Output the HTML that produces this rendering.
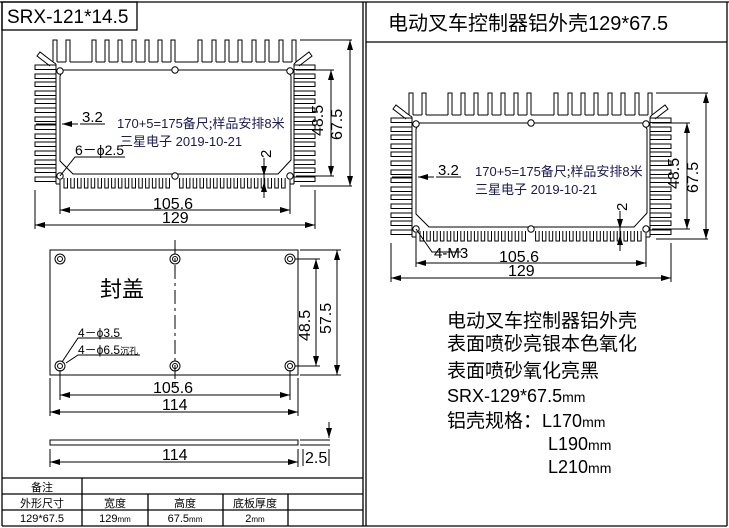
<!DOCTYPE html>
<html><head><meta charset="utf-8"><style>
html,body{margin:0;padding:0;background:#fff;}
svg{display:block;}
text{font-family:"Liberation Sans","Noto Sans CJK SC",sans-serif;fill:#000;}
.cj{font-family:"Noto Sans CJK SC","WenQuanYi Zen Hei",sans-serif;}
.bl{fill:#1a1a55;}
</style></head><body>
<svg width="729" height="528" viewBox="0 0 729 528" xmlns="http://www.w3.org/2000/svg">
<defs>
<marker id="a" viewBox="0 0 10 6" refX="10" refY="3" markerWidth="10" markerHeight="6" orient="auto-start-reverse" markerUnits="userSpaceOnUse"><path d="M0,0 L10,3 L0,6 Z" fill="#000"/></marker>
<g id="hs" fill="none" stroke="#000" stroke-width="1">
 <path d="M53,62V40h4V62 M66,62V40h4V62 M92,62V40h4V62 M105,62V40h4V62 M118,62V40h4V62 M132,62V40h4V62 M145,62V40h4V62 M158,62V40h4V62 M171,62V40h4V62 M198,62V40h4V62 M212,62V40h4V62 M225,62V40h4V62 M238,62V40h4V62 M252,62V40h4V62 M265,62V40h4V62 M279,62V40h4V62 M292,62V40h4V62"/>
 <path d="M57,62H66 M70,62H92 M96,62H105 M109,62H118 M122,62H132 M136,62H145 M149,62H158 M162,62H171 M175,62H198 M202,62H212 M216,62H225 M229,62H238 M242,62H252 M256,62H265 M269,62H279 M283,62H292"/>
 <path d="M53,62 L40,52 L37,56 L50,66 M296,62 L309,52 L312,56 L299,66"/>
 <path d="M56,64V184 M294,64V184 M53,62 L56,64 M296,62 L294,64"/>
 <path d="M56,65H35v4.5H56 M56,74H35v4.5H56 M56,82H35v4.5H56 M56,91H35v4.5H56 M56,99H35v4.5H56 M56,108H35v4.5H56 M56,117H35v4.5H56 M56,125H35v4.5H56 M56,134H35v4.5H56 M56,142H35v4.5H56 M56,151H35v4.5H56 M56,160H35v4.5H56 M56,168H35v4.5H56 M56,177H35v4.5H56"/>
 <path d="M294,65H315v4.5H294 M294,74H315v4.5H294 M294,82H315v4.5H294 M294,91H315v4.5H294 M294,99H315v4.5H294 M294,108H315v4.5H294 M294,117H315v4.5H294 M294,125H315v4.5H294 M294,134H315v4.5H294 M294,142H315v4.5H294 M294,151H315v4.5H294 M294,160H315v4.5H294 M294,168H315v4.5H294 M294,177H315v4.5H294"/>
 <path d="M64,178V188h3.5V178 M70.8,178V188h3.5V178 M77.6,178V188h3.5V178 M84.4,178V188h3.5V178 M91.2,178V188h3.5V178 M98,178V188h3.5V178 M104.8,178V188h3.5V178 M111.6,178V188h3.5V178 M118.4,178V188h3.5V178 M125.2,178V188h3.5V178 M132,178V188h3.5V178 M138.8,178V188h3.5V178 M145.6,178V188h3.5V178 M152.4,178V188h3.5V178 M159.2,178V188h3.5V178 M166,178V188h3.5V178 M179.6,178V188h3.5V178 M186.4,178V188h3.5V178 M193.2,178V188h3.5V178 M200,178V188h3.5V178 M206.8,178V188h3.5V178 M213.6,178V188h3.5V178 M220.4,178V188h3.5V178 M227.2,178V188h3.5V178 M234,178V188h3.5V178 M240.8,178V188h3.5V178 M247.6,178V188h3.5V178 M254.4,178V188h3.5V178 M261.2,178V188h3.5V178 M268,178V188h3.5V178 M274.8,178V188h3.5V178 M281.6,178V188h3.5V178"/>
 <path d="M56,184H60 M290,184H294"/>
 <path d="M63,70H287 L291,76V160 L278,174H73 L60,161V76 Z"/>
 <g fill="#fff"><circle cx="60" cy="71" r="3.2"/><circle cx="175" cy="70" r="3.2"/><circle cx="290" cy="71" r="3.2"/><circle cx="60" cy="176" r="3.2"/><circle cx="175" cy="176" r="3.2"/><circle cx="290" cy="176" r="3.2"/></g>
 <path d="M300,40H352 M296,70H334 M296,176H334 M300,186H352"/>
 <path d="M350,40V186" marker-start="url(#a)" marker-end="url(#a)"/>
 <path d="M331,70V176" marker-start="url(#a)" marker-end="url(#a)"/>
 <path d="M60,180V214 M290,180V214 M35,190V229 M315,190V229"/>
 <path d="M60,210H290" marker-start="url(#a)" marker-end="url(#a)"/>
 <path d="M35,225H315" marker-start="url(#a)" marker-end="url(#a)"/>
 <path d="M264,168V188"/>
 <path d="M264,158V176" marker-end="url(#a)"/>
 <path d="M264,198V182" marker-end="url(#a)"/>
</g>
</defs>

<g fill="none" stroke="#000" stroke-width="1.3">
<path d="M0,2H729 M2,2V526 M363,2V526 M366,2V526 M727,2V526 M2,526H727 M366,42H727"/>
<rect x="2" y="2" width="135" height="28"/>
</g>
<text x="7" y="23" font-size="19">SRX-121*14.5</text>
<text x="388" y="30" font-size="20" class="cj">电动叉车控制器铝外壳<tspan font-family="Liberation Sans">129*67.5</tspan></text>

<use href="#hs"/>
<g fill="none" stroke="#000" stroke-width="1">
<path d="M60,176 L75,157 H125"/><path d="M36,124H56"/><path d="M78,124H62" marker-end="url(#a)"/><path d="M80,124H105"/>
</g>
<text x="82" y="122" font-size="15">3.2</text>
<text x="75" y="155" font-size="14">6－ϕ2.5</text>
<text x="117" y="128" font-size="13" class="bl">170+5=175<tspan class="cj">备尺;样品安排</tspan>8<tspan class="cj">米</tspan></text>
<text x="120" y="146" font-size="13" class="bl"><tspan class="cj">三星电子</tspan>      2019-10-21</text>
<text x="271" y="158" font-size="15" transform="rotate(-90 271 158)">2</text>
<text x="323" y="136" font-size="16" transform="rotate(-90 323 136)">48.5</text>
<text x="342" y="140" font-size="16" transform="rotate(-90 342 140)">67.5</text>
<text x="153" y="209" font-size="16">105.6</text>
<text x="162" y="223" font-size="16">129</text>

<g transform="translate(356,53)"><use href="#hs"/>
<path d="M36,124H56 M80,124H105" stroke="#000" fill="none"/>
<path d="M78,124H62" marker-end="url(#a)" stroke="#000" fill="none"/>
<path d="M60,176 L76,199 H105" stroke="#000" fill="none"/>
<text x="82" y="122" font-size="15">3.2</text>
<text x="78" y="205" font-size="15">4-M3</text>
<text x="119" y="123" font-size="13" class="bl">170+5=175<tspan class="cj">备尺;样品安排</tspan>8<tspan class="cj">米</tspan></text>
<text x="119" y="141" font-size="13" class="bl"><tspan class="cj">三星电子</tspan>      2019-10-21</text>
<text x="271" y="158" font-size="15" transform="rotate(-90 271 158)">2</text>
<text x="323" y="136" font-size="16" transform="rotate(-90 323 136)">48.5</text>
<text x="342" y="140" font-size="16" transform="rotate(-90 342 140)">67.5</text>
<text x="143" y="209" font-size="16">105.6</text>
<text x="152" y="223" font-size="16">129</text>
</g>

<g fill="none" stroke="#000" stroke-width="1">
<rect x="50" y="250" width="248" height="125"/>
<path d="M175,240V388" stroke-dasharray="14,4,3,4"/>
<g><circle cx="60" cy="259" r="5"/><circle cx="60" cy="259" r="2.5"/><circle cx="175" cy="259" r="5"/><circle cx="175" cy="259" r="2.5"/><circle cx="290" cy="259" r="5"/><circle cx="290" cy="259" r="2.5"/>
<circle cx="60" cy="366" r="5"/><circle cx="60" cy="366" r="2.5"/><circle cx="175" cy="366" r="5"/><circle cx="175" cy="366" r="2.5"/><circle cx="290" cy="366" r="5"/><circle cx="290" cy="366" r="2.5"/></g>
<path d="M295,259H320 M295,366H320 M300,250H341 M300,375H341"/>
<path d="M316,259V366" marker-start="url(#a)" marker-end="url(#a)"/>
<path d="M337,250V375" marker-start="url(#a)" marker-end="url(#a)"/>
<path d="M60,370V400 M290,370V400 M50,378V416 M298,378V416"/>
<path d="M60,395H290" marker-start="url(#a)" marker-end="url(#a)"/>
<path d="M50,412H298" marker-start="url(#a)" marker-end="url(#a)"/>
<path d="M122,338H78 L62,362 M140,355H78 L66,363"/>
</g>
<text x="100" y="297" font-size="22" class="cj">封盖</text>
<text x="78" y="337" font-size="12">4－ϕ3.5</text>
<text x="78" y="354" font-size="12">4－ϕ6.5<tspan class="cj" font-size="9">沉孔</tspan></text>
<text x="310" y="341" font-size="16" transform="rotate(-90 310 341)">48.5</text>
<text x="331" y="334" font-size="16" transform="rotate(-90 331 334)">57.5</text>
<text x="153" y="393" font-size="16">105.6</text>
<text x="162" y="410" font-size="16">114</text>

<g fill="none" stroke="#000" stroke-width="1">
<rect x="50" y="440" width="248" height="5"/>
<path d="M300,440H330 M300,445H330"/>
<path d="M329,422V438" marker-end="url(#a)"/>
<path d="M50,449V467 M298,449V467 M303,449V466 M329,449V466"/>
<path d="M50,462H298" marker-start="url(#a)" marker-end="url(#a)"/>
</g>
<text x="162" y="460" font-size="16">114</text>
<text x="305" y="463" font-size="16">2.5</text>

<g fill="none" stroke="#000" stroke-width="1.3">
<path d="M2,478H363 M2,494H363 M2,510H363 M82,478V526 M148,494V526 M223,494V526 M288,494V526"/>
</g>
<g font-size="11" text-anchor="middle">
<text x="42" y="491" class="cj">备注</text>
<text x="42" y="507" class="cj">外形尺寸</text>
<text x="115" y="507" class="cj">宽度</text>
<text x="185" y="507" class="cj">高度</text>
<text x="255" y="507" class="cj">底板厚度</text>
<text x="42" y="522">129*67.5</text>
<text x="115" y="522">129<tspan font-size="8">mm</tspan></text>
<text x="185" y="522">67.5<tspan font-size="8">mm</tspan></text>
<text x="255" y="522">2<tspan font-size="8">mm</tspan></text>
</g>

<g font-size="19">
<text x="447" y="327" class="cj">电动叉车控制器铝外壳</text>
<text x="447" y="350" class="cj">表面喷砂亮银本色氧化</text>
<text x="447" y="377" class="cj">表面喷砂氧化亮黑</text>
<text x="447" y="402" font-size="18">SRX-129*67.5<tspan font-size="14">mm</tspan></text>
<text x="447" y="427" class="cj">铝壳规格：<tspan font-family="Liberation Sans" font-size="18">L170</tspan><tspan font-family="Liberation Sans" font-size="14">mm</tspan></text>
<text x="548" y="450" font-size="18">L190<tspan font-size="14">mm</tspan></text>
<text x="548" y="473" font-size="18">L210<tspan font-size="14">mm</tspan></text>
</g>
</svg>
</body></html>
